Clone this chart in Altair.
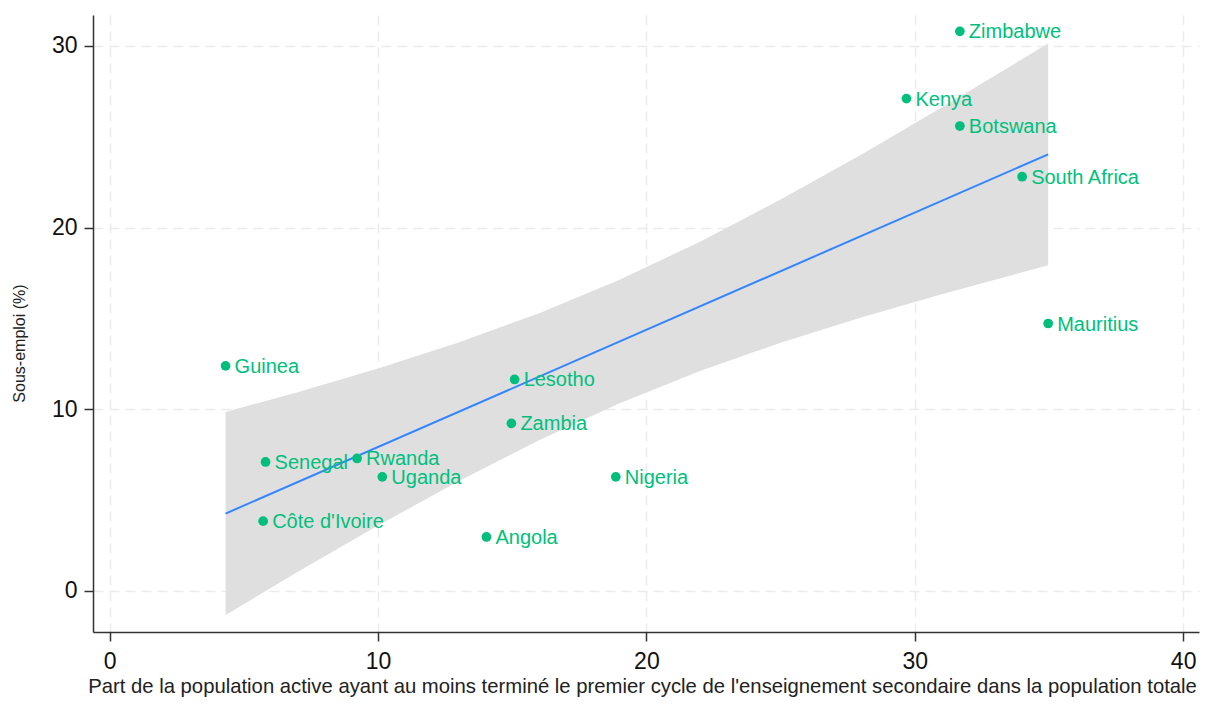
import altair as alt
import pandas as pd

countries = ["Zimbabwe", "Kenya", "Botswana", "South Africa", "Mauritius", "Guinea",
             "Lesotho", "Zambia", "Senegal", "Rwanda", "Uganda", "Nigeria",
             "Côte d'Ivoire", "Angola"]
educ = [31.68, 29.69, 31.68, 34.00, 34.97, 4.32, 15.09, 14.97, 5.81, 9.22, 10.16, 18.86, 5.72, 14.04]
underemp = [30.80, 27.10, 25.59, 22.80, 14.72, 12.39, 11.64, 9.22, 7.10, 7.29, 6.28, 6.28, 3.84, 2.97]

fit_x = [4.32, 34.97]
fit_y = [4.26, 24.03]

band_x = [4.32, 7, 10, 13, 16, 19, 22, 25, 28, 31, 34.97]
band_lo = [-1.33, 1.04, 3.60, 6.04, 8.30, 10.33, 12.10, 13.66, 15.05, 16.33, 17.93]
band_hi = [9.85, 10.94, 12.24, 13.68, 15.28, 17.13, 19.22, 21.54, 24.01, 26.61, 30.13]

GREEN = "#00BF7D"
FONT = "Liberation Sans"

pts = pd.DataFrame({"country": countries, "x": educ, "y": underemp})
fit = pd.DataFrame({"x": fit_x, "y": fit_y})
band = pd.DataFrame({"x": band_x, "lo": band_lo, "hi": band_hi})

xscale = alt.Scale(domain=[-0.62, 40.59], nice=False, zero=False)
yscale = alt.Scale(domain=[-2.26, 31.7], nice=False, zero=False)

xaxis = alt.Axis(values=[0, 10, 20, 30, 40], format="d",
                 title="Part de la population active ayant au moins terminé le premier cycle de l'enseignement secondaire dans la population totale",
                 grid=True, gridDash=[10, 6], gridColor="#EBEBEB", gridWidth=1.5,
                 domainColor="#333333", domainWidth=1.5, tickColor="#333333", tickWidth=1.5,
                 tickSize=9, labelFontSize=23, labelColor="#111111", labelPadding=9,
                 titleFontSize=20.3, titleFontWeight="normal", titleColor="#222222",
                 titleX=549, titleY=60, titleAnchor="middle", titleAlign="center",
                 titleBaseline="alphabetic",
                 labelFont=FONT, titleFont=FONT)
yaxis = alt.Axis(values=[0, 10, 20, 30], format="d", title="Sous-emploi (%)",
                 grid=True, gridDash=[10, 6], gridColor="#EBEBEB", gridWidth=1.5,
                 domainColor="#333333", domainWidth=1.5, tickColor="#333333", tickWidth=1.5,
                 tickSize=9, labelFontSize=23, labelColor="#111111", labelPadding=7,
                 titleFontSize=16, titleFontWeight="normal", titleColor="#222222",
                 titleX=-74, titleY=328, titleAngle=270, titleAlign="center",
                 titleBaseline="middle",
                 labelFont=FONT, titleFont=FONT)

band_layer = alt.Chart(band).mark_area(color="#DFDFDF", opacity=1).encode(
    x=alt.X("x:Q", scale=xscale, axis=xaxis),
    y=alt.Y("lo:Q", scale=yscale, axis=yaxis),
    y2="hi:Q",
)

line_layer = alt.Chart(fit).mark_line(color="#3385FF", strokeWidth=2).encode(
    x=alt.X("x:Q", scale=xscale),
    y=alt.Y("y:Q", scale=yscale),
)

point_layer = alt.Chart(pts).mark_circle(color=GREEN, size=95, opacity=1).encode(
    x=alt.X("x:Q", scale=xscale),
    y=alt.Y("y:Q", scale=yscale),
)

text_layer = alt.Chart(pts).mark_text(color=GREEN, align="left", baseline="middle",
                                      dx=9, dy=1, fontSize=20, font=FONT).encode(
    x=alt.X("x:Q", scale=xscale),
    y=alt.Y("y:Q", scale=yscale),
    text="country:N",
)

chart = alt.layer(band_layer, line_layer, point_layer, text_layer).properties(
    width=1106, height=617,
    background="white",
    autosize=alt.AutoSizeParams(type="none"),
    padding={"left": 85, "top": 7, "right": 7, "bottom": 65},
).configure_view(stroke=None)

chart.save("out.html", embed_options={"renderer": "svg", "actions": False})
